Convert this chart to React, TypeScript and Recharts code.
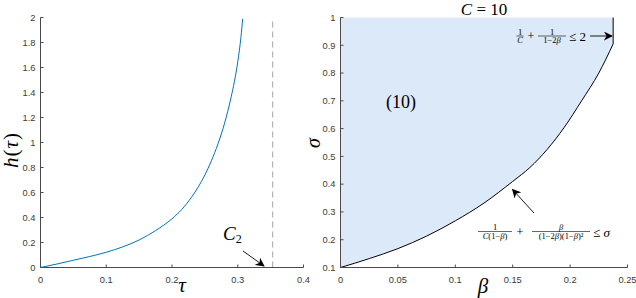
import React from "react";
import { ComposedChart, LineChart, Line, Area, XAxis, YAxis, ReferenceLine } from "recharts";

// left panel: h(tau)
const tau = [0, 0.025, 0.05, 0.075, 0.1, 0.125, 0.15, 0.175, 0.2, 0.215, 0.23, 0.24, 0.25, 0.26, 0.27, 0.28, 0.29, 0.295, 0.3, 0.305, 0.3075];
const hVals = [0, 0.028, 0.058, 0.088, 0.122, 0.165, 0.22, 0.295, 0.39, 0.465, 0.565, 0.645, 0.74, 0.855, 0.99, 1.155, 1.365, 1.49, 1.645, 1.85, 1.99];
const tauTicks = [0, 0.1, 0.2, 0.3, 0.4];
const hTicks = [0, 0.2, 0.4, 0.6, 0.8, 1, 1.2, 1.4, 1.6, 1.8, 2];
const c2 = 0.353;

// right panel: feasible region for C = 10
const beta = [0, 0.025, 0.05, 0.075, 0.1, 0.125, 0.15, 0.165, 0.18, 0.195, 0.21, 0.225, 0.2375];
const sigma = [0.1, 0.132, 0.168, 0.213, 0.268, 0.332, 0.41, 0.46, 0.525, 0.605, 0.7, 0.8, 0.905];
const betaTicks = [0, 0.05, 0.1, 0.15, 0.2, 0.25];
const sigmaTicks = [0.1, 0.2, 0.3, 0.4, 0.5, 0.6, 0.7, 0.8, 0.9, 1];
const sigmaTop = 1;

const leftData = tau.map((t, i) => ({ t, h: hVals[i] }));
const rightData = beta.map((b, i) => ({ b, s: sigma[i], band: [sigma[i], sigmaTop] }));

const axisStroke = "#4a4a4a";
const tickFont = { fontSize: 9.3, fill: "#3a3a3a", fontFamily: "Liberation Sans, Arial, sans-serif" };
const serif = "Liberation Serif, DejaVu Serif, serif";
const blank = () => "";

function Frac({ x, y, w, num, den, size = 8.5 }: { x: number; y: number; w: number; num: React.ReactNode; den: React.ReactNode; size?: number }) {
  return (
    <g fontFamily={serif} fontSize={size} textAnchor="middle" fill="#000">
      <text x={x} y={y - 1.5}>{num}</text>
      <line x1={x - w / 2} x2={x + w / 2} y1={y} y2={y} stroke="#000" strokeWidth={0.6} />
      <text x={x} y={y + size * 0.85}>{den}</text>
    </g>
  );
}

const it = (s: string) => <tspan fontStyle="italic">{s}</tspan>;

export default function App() {
  return (
    <div style={{ position: "absolute", left: 0, top: 0, width: 636, height: 298, background: "#fff" }}>
      <div style={{ position: "absolute", left: 0, top: 0 }}>
        <LineChart width={318} height={298} data={leftData} margin={{ top: 17.5, right: 14.5, bottom: 0, left: 0 }}>
          <XAxis dataKey="t" type="number" domain={[0, 0.4]} ticks={tauTicks} interval={0} height={30.5}
            tickSize={-3} tickMargin={12} axisLine={{ stroke: axisStroke }} tickLine={{ stroke: axisStroke }} tick={tickFont} />
          <XAxis xAxisId="top" orientation="top" type="number" domain={[0, 0.4]} ticks={tauTicks} interval={0} height={0}
            tickSize={-3} tickFormatter={blank} axisLine={{ stroke: axisStroke }} tickLine={{ stroke: axisStroke }} />
          <YAxis type="number" domain={[0, 2]} ticks={hTicks} interval={0} width={40.5}
            tickSize={-3} tickMargin={8} axisLine={{ stroke: axisStroke }} tickLine={{ stroke: axisStroke }} tick={tickFont} />
          <YAxis yAxisId="right" orientation="right" type="number" domain={[0, 2]} ticks={hTicks} interval={0} width={0}
            tickSize={-3} tickFormatter={blank} axisLine={{ stroke: axisStroke }} tickLine={{ stroke: axisStroke }} />
          <ReferenceLine x={c2} stroke="#b5b5b5" strokeWidth={1.3} strokeDasharray="6 4" />
          <Line dataKey="h" type="monotoneX" stroke="#0072BD" strokeWidth={1} dot={false} isAnimationActive={false} />
        </LineChart>
      </div>
      <div style={{ position: "absolute", left: 318, top: 0 }}>
        <ComposedChart width={318} height={298} data={rightData} margin={{ top: 17.5, right: 8.5, bottom: 0, left: 0 }}>
          <Area dataKey="band" type="monotoneX" fill="#dce9f8" fillOpacity={1} stroke="none" isAnimationActive={false} />
          <Line dataKey="s" type="monotoneX" stroke="#000" strokeWidth={1} dot={false} isAnimationActive={false} />
          <ReferenceLine segment={[{ x: beta[beta.length - 1], y: sigma[sigma.length - 1] }, { x: beta[beta.length - 1], y: sigmaTop }]}
            stroke="#000" strokeWidth={1} />
          <XAxis dataKey="b" type="number" domain={[0, 0.25]} ticks={betaTicks} interval={0} height={30.5}
            tickSize={-3} tickMargin={12} axisLine={{ stroke: axisStroke }} tickLine={{ stroke: axisStroke }} tick={tickFont} />
          <XAxis xAxisId="top" orientation="top" type="number" domain={[0, 0.25]} ticks={betaTicks} interval={0} height={0}
            tickSize={-3} tickFormatter={blank} axisLine={{ stroke: axisStroke }} tickLine={{ stroke: axisStroke }} />
          <YAxis type="number" domain={[0.1, 1]} ticks={sigmaTicks} interval={0} width={22.5}
            tickSize={-3} tickMargin={8} axisLine={{ stroke: axisStroke }} tickLine={{ stroke: axisStroke }} tick={tickFont} />
          <YAxis yAxisId="right" orientation="right" type="number" domain={[0.1, 1]} ticks={sigmaTicks} interval={0} width={0}
            tickSize={-3} tickFormatter={blank} axisLine={{ stroke: axisStroke }} tickLine={{ stroke: axisStroke }} />
        </ComposedChart>
      </div>
      <svg width={636} height={298} style={{ position: "absolute", left: 0, top: 0, pointerEvents: "none" }}>
        <defs>
          <marker id="ah" viewBox="0 0 10 10" refX="9" refY="5" markerWidth="9" markerHeight="9" orient="auto" markerUnits="userSpaceOnUse">
            <path d="M0,0 L10,5 L0,10 L3,5 z" fill="#000" />
          </marker>
        </defs>
        {/* left panel labels */}
        <text x={0} y={0} transform="translate(18,150) rotate(-90)" textAnchor="middle" fontFamily={serif} fontSize={21} letterSpacing={1}>
          {it("h")}(<tspan fontStyle="italic">τ</tspan>)
        </text>
        <text x={182} y={292} textAnchor="middle" fontFamily={serif} fontStyle="italic" fontSize={21}>τ</text>
        <text x={223} y={240} fontFamily={serif} fontSize={19}>
          <tspan fontStyle="italic">C</tspan><tspan fontSize={12} dy={3}>2</tspan>
        </text>
        <line x1={243} y1={251} x2={264} y2={266} stroke="#000" strokeWidth={0.9} markerEnd="url(#ah)" />
        {/* right panel labels */}
        <text x={0} y={0} transform="translate(320,143) rotate(-90)" textAnchor="middle" fontFamily={serif} fontStyle="italic" fontSize={20}>σ</text>
        <text x={483} y={293} textAnchor="middle" fontFamily={serif} fontStyle="italic" fontSize={21}>β</text>
        <text x={484} y={15} textAnchor="middle" fontFamily={serif} fontSize={17}>
          {it("C")} = 10
        </text>
        <text x={401} y={108} textAnchor="middle" fontFamily={serif} fontSize={18}>(10)</text>
        {/* constraint 1 */}
        <Frac x={520} y={36} w={7} num="1" den={it("C")} />
        <text x={531} y={40} textAnchor="middle" fontFamily={serif} fontSize={12}>+</text>
        <Frac x={552} y={36} w={28} num="1" den={<>1−2{it("β")}</>} />
        <text x={569} y={41} fontFamily={serif} fontSize={13}>≤ 2</text>
        <line x1={590} y1={36} x2={612} y2={36} stroke="#000" strokeWidth={0.9} markerEnd="url(#ah)" />
        {/* constraint 2 */}
        <Frac x={495} y={231.5} w={34} num="1" den={<>{it("C")}(1−{it("β")})</>} />
        <text x={520} y={236} textAnchor="middle" fontFamily={serif} fontSize={12}>+</text>
        <Frac x={561} y={231.5} w={58} num={it("β")} den={<>(1−2{it("β")})(1−{it("β")})²</>} />
        <text x={593} y={237} fontFamily={serif} fontSize={13}>≤ {it("σ")}</text>
        <line x1={534} y1={213} x2={512.5} y2={189.5} stroke="#000" strokeWidth={0.9} markerEnd="url(#ah)" />
      </svg>
    </div>
  );
}
